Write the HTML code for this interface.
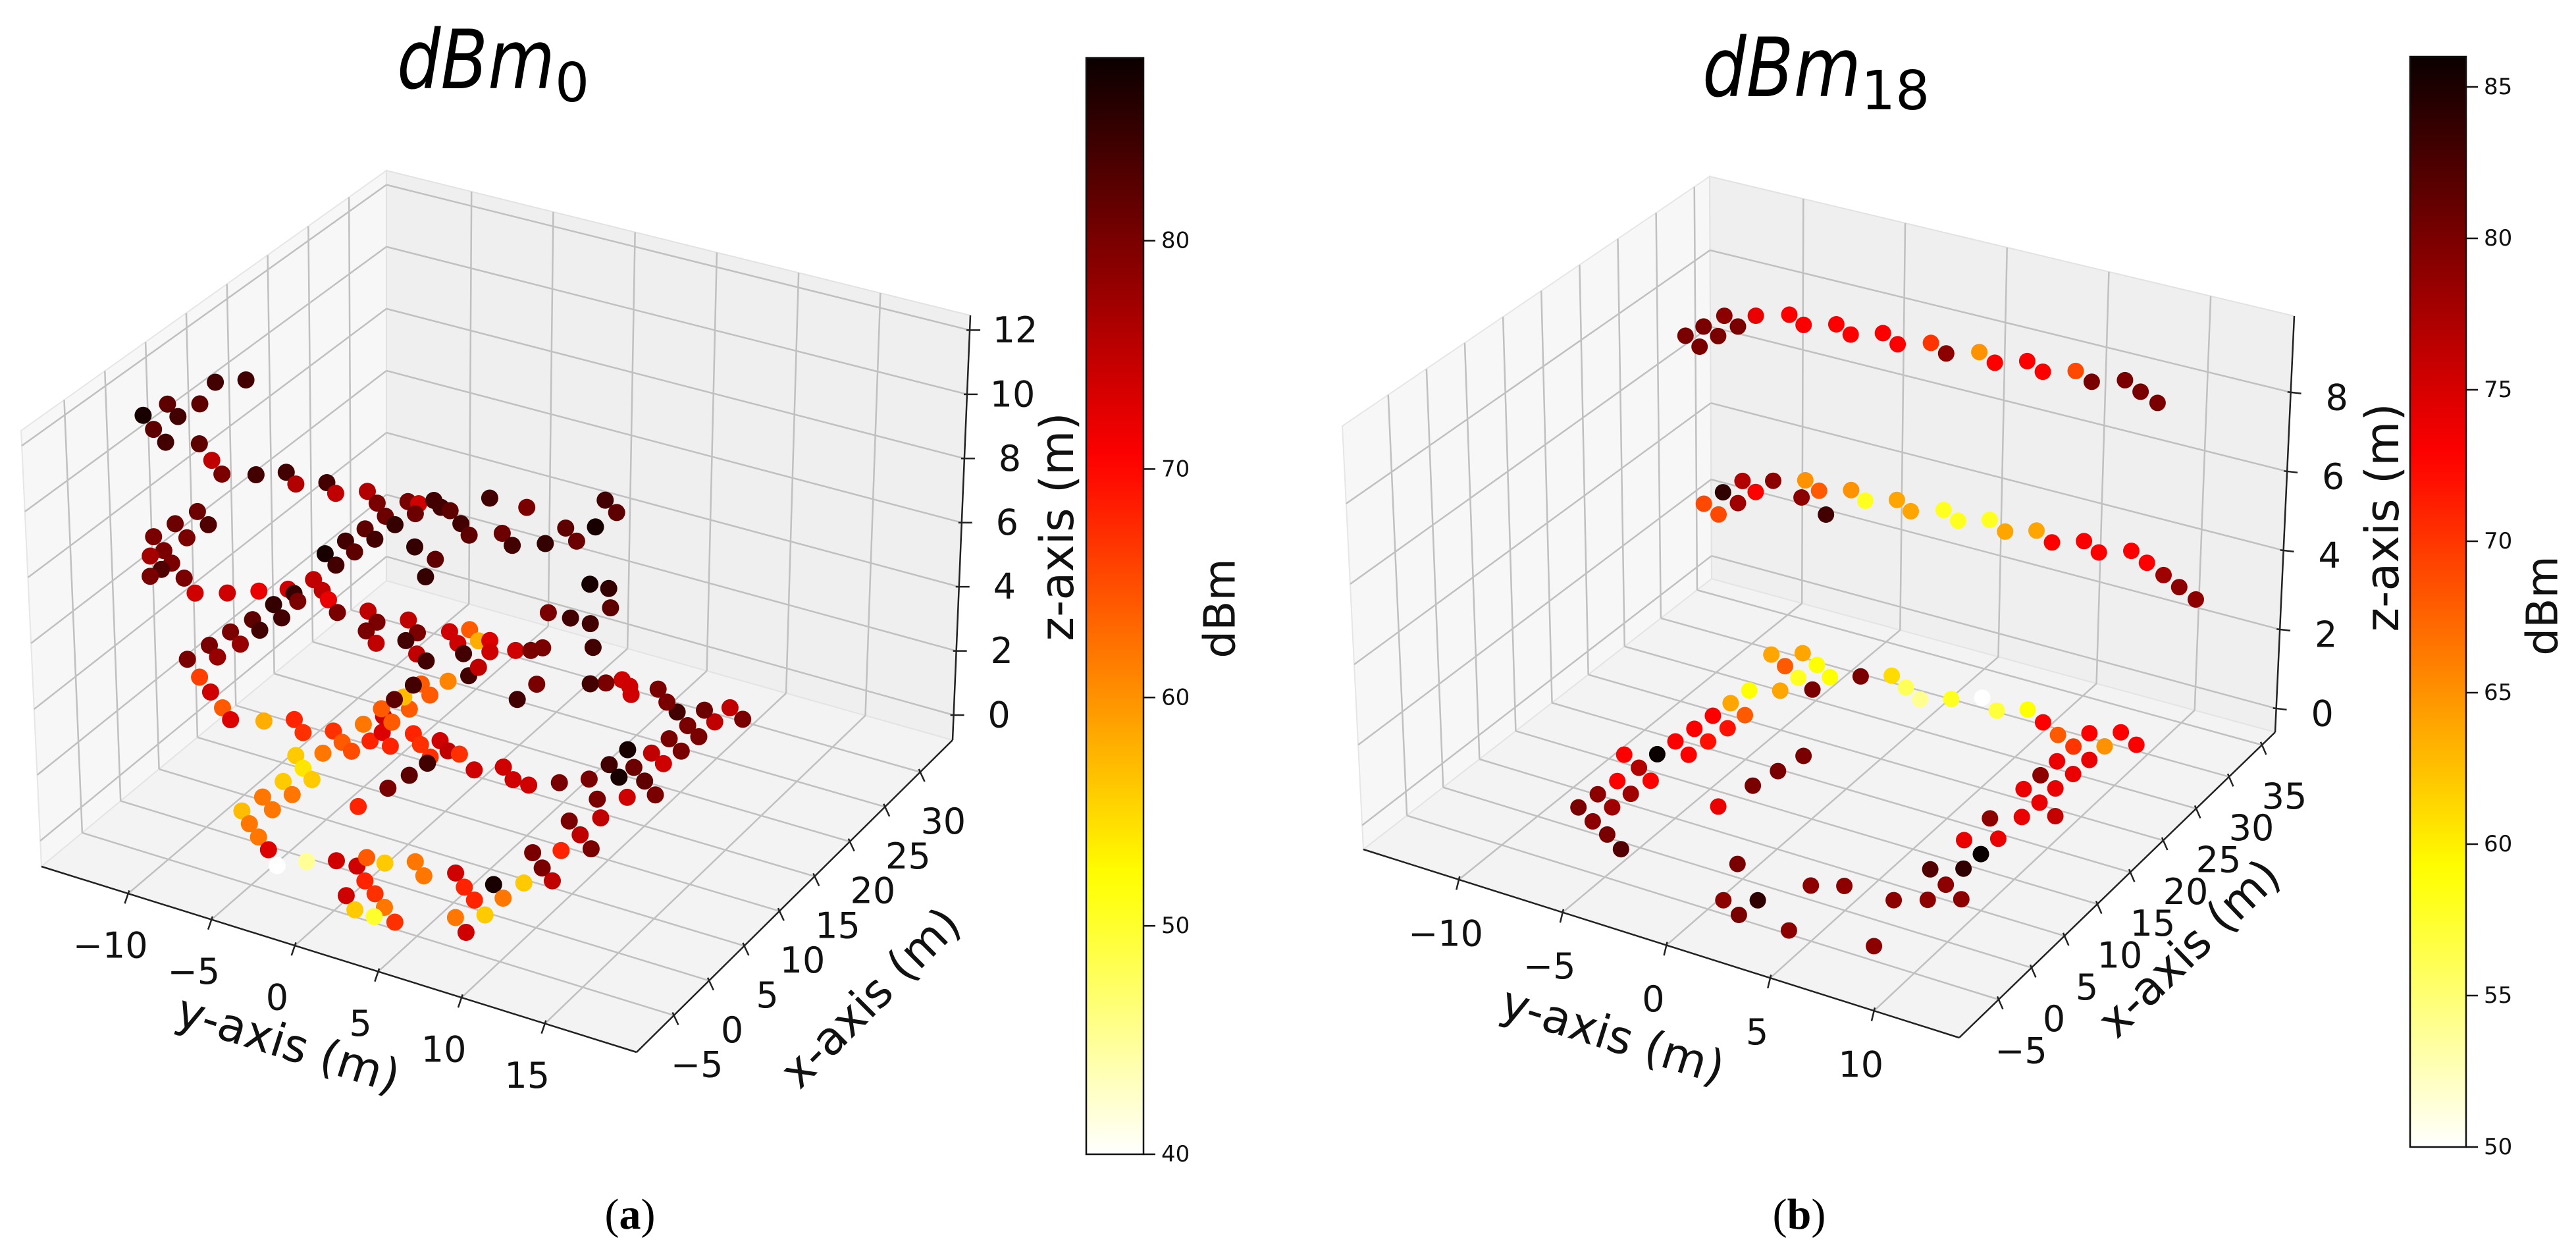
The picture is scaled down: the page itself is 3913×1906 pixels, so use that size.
<!DOCTYPE html>
<html>
<head>
<meta charset="utf-8">
<style>
html,body{margin:0;padding:0;background:#fff;}
svg{display:block;}
text{font-family:"DejaVu Sans","Liberation Sans",sans-serif;}
</style>
</head>
<body>
<svg id="chart" width="3913" height="1906" viewBox="0 0 3913 1906">
  <rect x="0" y="0" width="3913" height="1906" fill="#ffffff"></rect>
  <g id="panelA"></g>
  <g id="panelB"></g>
  <text x="603" y="134" font-size="124"><tspan font-style="italic" textLength="240" lengthAdjust="spacingAndGlyphs">dBm</tspan><tspan font-size="82" dy="20">0</tspan></text>
  <text x="2586" y="146" font-size="124"><tspan font-style="italic" textLength="241" lengthAdjust="spacingAndGlyphs">dBm</tspan><tspan font-size="82" dy="20">18</tspan></text>
  <text x="957" y="1866" font-size="66" text-anchor="middle" style="font-family:'Liberation Serif',serif">(<tspan font-weight="bold">a</tspan>)</text>
  <text x="2733" y="1866" font-size="66" text-anchor="middle" style="font-family:'Liberation Serif',serif">(<tspan font-weight="bold">b</tspan>)</text>
</svg>
<script>
// ---------------- Panel (a) data: dBm_0 ----------------
const aX = [12.1,13.4,6.6,8.9,3.6,6.6,4.2,4.6,7.9,10.2,
10.8,13.8,15.1,14.0,15.2,14.2,15.5,14.4,15.6,15.7,
14.4,16.6,16.0,15.9,13.1,12.4,14.7,13.6,18.7,18.8,
14.9,13.8,15.1,17.6,16.4,18.7,22.2,21.1,10.9,10.0,
8.8,7.8,6.6,5.6,10.4,9.6,7.2,19.4,19.5,17.3,
14.7,14.8,14.8,9.3,10.0,6.3,7.7,4.0,4.6,3.1,
4.9,3.8,2.6,6.6,7.1,10.1,11.4,12.6,12.3,14.6,
13.6,12.7,11.5,10.3,11.5,12.7,11.7,10.3,9.2,13.0,
11.8,10.5,9.3,8.8,7.8,6.8,9.0,5.6,4.5,3.3,
2.2,0.9,3.0,5.4,
13.9,13.0,12.9,13.3,11.9,10.9,12.0,13.0,13.5,14.2,8.5,9.8,15.9,
7.7,6.6,11.3,12.5,11.3,12.5,11.5,10.8,14.3,12.6,
14.0,15.9,12.7,15.5,16.7,17.6,18.8,18.2,20.9,19.9,
22.1,20.5,14.9,13.9,12.8,12.0,15.0,14.1,14.1,12.8,
14.1,13.0,12.9,14.2,15.6,10.0,7.8,4.7,8.4,7.2,
6.2,9.6,5.0,3.8,2.5,1.4,0.2,-1.0,-2.2,-3.3,
-4.8,-3.3,-2.2,-2.1,-0.8,-0.8,0.4,-0.9,-3.5,-5.8,
-4.6,-5.8,-7.1,-7.2,-7.1,0.5,-0.8,-1.9,0.5,-0.7,
1.7,-3.2,-4.5,-5.8,5.4,4.0,2.9,6.6,10.2,9.0,
7.8,13.6,11.6,14.8,16.0,17.2,18.4,17.9,16.8,20.2,
20.6,19.8,21.8,22.8,24.9,24.0,26.2,27.2,26.1,26.9,
28.1,26.6,27.5,28.0,27.1,26.5,
22.3,24.7,28.3,27.4];
const aY = [-14.6,-13.4,-14.8,-14.0,-14.8,-14.2,-14.5,-14.0,-13.6,-14.0,
-13.7,-13.1,-11.9,-10.8,-9.5,-8.5,-7.2,-6.1,-4.8,-4.2,
-3.8,-3.7,-3.0,-2.4,-5.0,-4.1,-1.2,-0.2,-1.3,0.9,
1.2,2.3,3.7,3.8,5.0,5.1,4.1,5.3,-5.2,-4.2,
-5.4,-4.4,-5.6,-4.5,-2.0,-0.4,0.1,4.5,5.6,6.7,
4.1,5.4,6.6,-14.5,-14.2,-14.4,-14.4,-14.6,-14.3,-14.4,
-14.0,-14.1,-14.2,-14.1,-13.7,-13.2,-11.9,-10.7,-10.2,-10.1,
-9.1,-8.3,-9.6,-10.5,-7.2,-5.9,-4.9,-4.9,-3.8,-3.6,
-2.5,-2.6,-1.4,-0.6,-10.6,-9.7,-9.4,-10.9,-9.8,-11.1,
-10.1,-11.3,-11.6,-12.1,
-0.3,-1.1,0.7,1.2,-0.1,0.7,1.8,2.9,3.6,4.0,2.1,2.1,6.3,
-12.5,-11.5,-11.7,-10.4,-9.3,-8.0,-7.0,-6.1,-7.0,-5.8,
-5.7,-6.5,-4.6,-5.8,-7.0,-5.7,-6.6,-6.9,-6.5,-5.5,
-5.4,-6.8,-4.2,-3.3,-2.2,-2.0,-2.6,-1.7,-1.0,0.5,
1.7,2.8,3.8,5.1,6.3,-2.2,-2.5,-2.9,-8.4,-7.4,
-6.4,-7.3,-7.6,-6.5,-7.7,-6.6,-7.9,-6.9,-5.8,-4.7,
-3.5,-2.4,-1.1,0.1,0.1,1.2,2.5,3.6,1.2,1.1,
2.3,3.4,2.2,3.4,4.6,4.9,6.0,7.1,7.2,8.3,
8.5,8.3,7.1,8.3,7.4,8.6,9.7,8.6,7.5,8.7,
9.9,7.7,8.8,9.0,10.2,9.0,7.8,6.5,7.6,6.6,
7.9,9.0,9.2,8.0,8.2,9.3,9.3,8.2,7.0,6.0,
4.9,3.9,3.4,2.7,2.1,1.4,
-1.2,-1.1,9.3,10.5];
const aZ = [10,10,10.3,10,10.5,10,10,9.6,9,8,
7.5,7,7,7,7,7,7,7,7,7,
7,7,7,7,7,7,7,7,7,7,
7,7,7,7,7,7,7,7,7,7,
7,7,7,7,7,7,7,5,5,5,
5,5,5,6.5,6,6.7,6,6.7,6.2,6.3,
5.8,5.8,5.8,5,4.5,4,4,4,4,4,
4,4,4,4,4,4,4,4,4,4,
4,4,4,4,4,4,4,4,4,4,
4,4,3,2,
4,4,4,4,4,4,4,4,4,4,4,4,4,
1,1,0,0,0,0,0,0,0,0,
0,0,0,0,0,0,0,0,0,0,
0,0,0,0,0,0,0,0,0,0,
0,0,0,0,0,0,0,0,0,0,
0,0,0,0,0,0,0,0,0,0,
0,0,0,0,0,0,0,0,0,0,
0,0,0,0,0,0,0,0,0,0,
0,0,0,0,0,0,0,0,0,0,
0,0,0,0,0,0,0,0,0,0,
0,0,0,0,0,0,0,0,0,0,
0,0,0,0,0,0,
0,0,0,0];
const aDbm = [84,84,82,82,87,84,82,84,82,75,
80,84,84,76,84,75,76,80,80,74,
81,84,84,82,81,85,84,82,84,80,
81,84,85,82,81,87,84,82,82,84,
84,82,87,84,85,82,85,87,85,82,
80,84,84,81,83,81,80,80,80,77,
80,83,80,80,74,74,72,74,85,75,
75,72,80,85,80,75,80,80,75,75,
80,84,75,84,82,84,84,80,78,80,
78,80,66,74,
64,74,58,73,74,84,74,74,80,80,84,75,84,
64,73,58,68,67,67,64,65,62,68,
73,74,68,64,64,64,57,82,64,64,
61,84,68,67,67,84,74,75,67,74,
74,74,74,80,80,82,80,68,56,54,
56,62,56,62,62,62,57,62,62,73,
40,45,74,74,64,56,62,62,68,74,
67,62,56,50,67,74,68,68,87,62,
56,56,62,74,80,80,75,68,80,75,
80,80,75,74,80,82,81,84,87,87,
75,74,80,80,80,80,75,81,84,80,
80,74,74,74,80,84,
84,80,75,80];
const aXTicks = [-5,0,5,10,15,20,25,30];
const aYTicks = [-10,-5,0,5,10,15];
const aZTicks = [0,2,4,6,8,10,12];
const aCbTicks = [40,50,60,70,80];
const aCbRange = [40,88];

// ---------------- Panel (b) data: dBm_18 ----------------
const bX = [21.1,23.0,20.1,22.2,25.2,24.2,26.3,27.6,26.7,27.9,27.0,28.3,27.3,28.6,27.7,29.0,28.1,29.4,28.5,29.7,28.8,30.1,29.1,28.2,
21.7,20.8,23.9,23.0,26.1,25.1,27.2,26.0,28.4,27.5,24.6,28.7,27.8,29.0,28.0,29.3,28.4,29.6,28.6,29.8,28.8,30.05,29.1,30.4,29.4,28.4,27.4,26.4,
26.3,27.6,26.6,25.3,20.9,22.0,24.3,23.3,25.5,26.7,
27.9,26.9,25.9,27.05,28.3,27.2,28.4,27.35,26.3,25.4,
27.6,26.5,28.8,27.8,23.0,24.3,20.7,22.0,18.4,19.6,
17.3,14.9,16.2,13.6,10.0,11.4,8.9,6.5,5.2,3.9,
1.4,2.7,0.1,-6.2,0.0,-1.2,-7.5,-5.0,-6.3,-7.5,
-1.3,5.1,9.0,11.75,14.6,18.6,17.6,16.35,15.3,14.0,
12.9,11.7,10.5,9.4,8.1,7.0,4.5,5.8,2.1,3.4,
-0.3,1.0,-1.5,-2.6,-3.9];
const bY = [-9.95,-9.76,-8.91,-8.77,-9.55,-8.53,-8.42,-7.26,-6.24,-5.08,-4.06,-2.95,-1.88,-0.72,0.34,1.5,2.57,3.7,4.77,5.96,7.05,8.23,9.33,10.46,
-9.35,-8.31,-9.2,-8.14,-9.03,-8.02,-7.91,-6.08,-6.75,-5.75,-4.38,-4.59,-3.57,-2.43,-1.39,-0.22,0.81,1.96,3.07,4.21,5.32,6.48,7.54,8.71,9.82,10.98,12.09,13.24,
-7.69,-6.58,-5.51,-6.65,-6.88,-5.72,-5.63,-4.57,-4.47,-3.35,
-2.21,-1.15,-0.09,1.08,2.2,3.31,4.45,5.58,6.69,7.77,
7.83,8.96,9.0,10.12,7.76,8.94,7.71,8.9,7.64,8.82,
8.8,8.72,9.95,7.58,7.5,8.72,8.69,8.63,7.43,8.62,
8.56,9.77,7.33,8.43,4.96,3.73,4.75,2.42,1.19,2.34,
0.2,-2.91,-2.55,-2.26,-1.98,-6.99,-5.93,-7.08,-5.98,-7.17,
-6.11,-7.3,-6.23,-7.39,-8.56,-7.45,-7.64,-6.46,-7.76,-6.6,
-7.87,-6.68,-6.76,-5.68,-4.57];
const bZ = [8.6,8.6,8.6,8.6,8.6,8.6,8.6,8.6,8.6,8.6,8.6,8.6,8.6,8.6,8.6,8.6,8.6,8.6,8.6,8.6,8.6,8.6,8.6,8.6,
4.3,4.3,4.3,4.3,4.3,4.3,4.3,4.3,4.3,4.3,4.3,4.3,4.3,4.3,4.3,4.3,4.3,4.3,4.3,4.3,4.3,4.3,4.3,4.3,4.3,4.3,4.3,4.3,
0,0,0,0,0,0,0,0,0,0,
0,0,0,0,0,0,0,0,0,0,
0,0,0,0,0,0,0,0,0,0,
0,0,0,0,0,0,0,0,0,0,
0,0,0,0,0,0,0,0,0,0,
0,0,0,0,0,0,0,0,0,0,
0,0,0,0,0,0,0,0,0,0,
0,0,0,0,0];
const bDbm = [80,80,80,80,79,80,74,73,73,73,73,73,73,70,79,65,73,73,73,69,80,80,80,80,
69,69,84,78,77,73,79,79,65,68,83,65,58,64,64,58,58,58,64,64,73,73,73,73,73,78,79,79,
64,64,59,68,59,64,58,80,59,80,
61,56,54,58,50,57,59,73,68,70,
73,65,73,73,74,74,79,74,74,74,
74,74,76,79,74,74,86,84,82,79,
79,79,79,79,79,79,79,84,79,80,
80,74,80,80,80,64,68,73,72,73,
72,73,73,86,73,77,73,73,79,78,
80,78,79,80,82];
const bXTicks = [-5,0,5,10,15,20,25,30,35];
const bYTicks = [-10,-5,0,5,10];
const bZTicks = [0,2,4,6,8];
const bCbTicks = [50,55,60,65,70,75,80,85];
const bCbRange = [50,86];

// ---------------- geometry (layout) ----------------
const GA = {x0:-10.3,x1:34.6,y0:-15.2,y1:20.5,z0:-0.78,z1:12.46,
  L:[63,1316],F:[967,1598],R:[1447,1124],B:[587,882],
  Lt:[32,654],Ft:[985,918],Rt:[1474,479],Bt:[587,259],
  yOff:[-27,79],xOff:[35,75],zOff:[69,0],r:13,
  yLab:[438,1585,17.5],xLab:[1322,1515,-45],zLab:[1606,800,-90],
  cb:{x:1650,w:87,top:88,bot:1753,lab:[1853,924]}, key:'a'};
const GB = {x0:-11,x1:37,y0:-14.6,y1:14.1,z0:-0.6,z1:9.93,
  L:[2071,1290],F:[2976,1576],R:[3456,1112],B:[2600,879],
  Lt:[2039,647],Ft:[2990,916],Rt:[3485,480],Bt:[2597,268],
  yOff:[-20,82],xOff:[34,78],zOff:[70,8],r:12.5,
  yLab:[2450,1572,17.3],xLab:[3325,1440,-44],zLab:[3619,786,-90],
  cb:{x:3661,w:85,top:86,bot:1742,lab:[3862,920]}, key:'b'};

const NS = document.getElementById('chart').namespaceURI;
function mk(tag, attrs, parent){
  const e = document.createElementNS(NS, tag);
  for (const k in attrs) e.setAttribute(k, attrs[k]);
  parent.appendChild(e);
  return e;
}
function proj(P, x, y, z){
  const u=(x-P.x0)/(P.x1-P.x0), v=(y-P.y0)/(P.y1-P.y0), w=(z-P.z0)/(P.z1-P.z0);
  const bl = (A,Bf,C,D,i) => (1-u)*(1-v)*A[i]+(1-u)*v*Bf[i]+u*v*C[i]+u*(1-v)*D[i];
  const fx=bl(P.L,P.F,P.R,P.B,0), fy=bl(P.L,P.F,P.R,P.B,1);
  const tx=bl(P.Lt,P.Ft,P.Rt,P.Bt,0), ty=bl(P.Lt,P.Ft,P.Rt,P.Bt,1);
  return [fx+w*(tx-fx), fy+w*(ty-fy)];
}
function hotR(v, vmin, vmax){
  let t = 1-(v-vmin)/(vmax-vmin); t=Math.max(0,Math.min(1,t));
  const r = t<0.365079 ? 0.0416+(1-0.0416)*t/0.365079 : 1;
  const g = t<0.365079 ? 0 : (t<0.746032 ? (t-0.365079)/(0.746032-0.365079) : 1);
  const b = t<0.746032 ? 0 : (t-0.746032)/(1-0.746032);
  return 'rgb('+Math.round(r*255)+','+Math.round(g*255)+','+Math.round(b*255)+')';
}
function fmt(n){ return n<0 ? '\u2212'+Math.abs(n) : String(n); }
function pts(arr){ return arr.map(p=>p[0].toFixed(1)+','+p[1].toFixed(1)).join(' '); }

function drawPanel(P, gid, X, Y, Z, D, xt, yt, zt, cbt, cbr){
  const g = document.getElementById(gid);
  const {x0,x1,y0,y1,z0,z1} = P;
  const left = mk('polygon',{points:pts([proj(P,x0,y0,z0),proj(P,x1,y0,z0),proj(P,x1,y0,z1),proj(P,x0,y0,z1)]),fill:'#f7f7f7',stroke:'#e6e6e6','stroke-width':2},g);
  
  
  const right = mk('polygon',{points:pts([proj(P,x1,y0,z0),proj(P,x1,y1,z0),proj(P,x1,y1,z1),proj(P,x1,y0,z1)]),fill:'#efefef',stroke:'#e2e2e2','stroke-width':2},g);
  
  
  const floor = mk('polygon',{points:pts([proj(P,x0,y0,z0),proj(P,x0,y1,z0),proj(P,x1,y1,z0),proj(P,x1,y0,z0)]),fill:'#f3f3f3',stroke:'#e4e4e4','stroke-width':2},g);
  
  
  const gs = {stroke:'#c0c0c0','stroke-width':2.5};
  const seg = (a,b,name)=>{
    const l = mk('line',Object.assign({x1:a[0],y1:a[1],x2:b[0],y2:b[1]},gs),g);
    
    
  };
  xt.forEach(x=>{ seg(proj(P,x,y0,z0),proj(P,x,y1,z0),'x-gridline-floor'); seg(proj(P,x,y0,z0),proj(P,x,y0,z1),'x-gridline-wall'); });
  yt.forEach(y=>{ seg(proj(P,x0,y,z0),proj(P,x1,y,z0),'y-gridline-floor'); seg(proj(P,x1,y,z0),proj(P,x1,y,z1),'y-gridline-wall'); });
  zt.forEach(z=>{ seg(proj(P,x0,y0,z),proj(P,x1,y0,z),'z-gridline-left'); seg(proj(P,x1,y0,z),proj(P,x1,y1,z),'z-gridline-right'); });
  const ax = (a,b,name)=>{
    const l = mk('line',{x1:a[0],y1:a[1],x2:b[0],y2:b[1],stroke:'#222','stroke-width':2.5},g);
    
    
  };
  ax(proj(P,x0,y0,z0),proj(P,x0,y1,z0),'y-axis-line');
  ax(proj(P,x0,y1,z0),proj(P,x1,y1,z0),'x-axis-line');
  ax(proj(P,x1,y1,z0),proj(P,x1,y1,z1),'z-axis-line');
  const tick = (p,off,label,name)=>{
    const n = Math.hypot(off[0],off[1]), dx=off[0]/n, dy=off[1]/n;
    const t = mk('line',{x1:p[0]-dx*5,y1:p[1]-dy*5,x2:p[0]+dx*16,y2:p[1]+dy*16,stroke:'#222','stroke-width':2.5},g);
    
    
    const tx = mk('text',{x:p[0]+off[0],y:p[1]+off[1],'font-size':54,'text-anchor':'middle','dominant-baseline':'central',fill:'#111'},g);
    tx.textContent = label;
    
    
  };
  yt.forEach(y=>tick(proj(P,x0,y,z0),P.yOff,fmt(y),'y'));
  xt.forEach(x=>tick(proj(P,x,y1,z0),P.xOff,fmt(x),'x'));
  zt.forEach(z=>{ const p=proj(P,x1,y1,z); tick(p,[P.zOff[0],P.zOff[1]],fmt(z),'z'); });
  const title = (c,txt,name)=>{
    const t = mk('text',{x:c[0],y:c[1],'font-size':70,'text-anchor':'middle','dominant-baseline':'central',transform:'rotate('+c[2]+' '+c[0]+' '+c[1]+')',fill:'#111'},g);
    t.textContent = txt;
    
    
  };
  title(P.yLab,'y-axis (m)','y-axis-title');
  title(P.xLab,'x-axis (m)','x-axis-title');
  title(P.zLab,'z-axis (m)','z-axis-title');
  for (let i=0;i<X.length;i++){
    const p = proj(P,X[i],Y[i],Z[i]);
    const c = mk('circle',{cx:p[0].toFixed(1),cy:p[1].toFixed(1),r:P.r,fill:hotR(D[i],cbr[0],cbr[1])},g);
    
    
  }
  const cb = P.cb;
  const gradId = 'grad'+P.key;
  const defs = mk('defs',{},g);
  const lg = mk('linearGradient',{id:gradId,x1:0,y1:0,x2:0,y2:1},defs);
  for (let s=0;s<=50;s++){
    const v = cbr[1]-(cbr[1]-cbr[0])*s/50;
    mk('stop',{offset:(s/50).toFixed(3),'stop-color':hotR(v,cbr[0],cbr[1])},lg);
  }
  const bar = mk('rect',{x:cb.x,y:cb.top,width:cb.w,height:cb.bot-cb.top,fill:'url(#'+gradId+')',stroke:'#111','stroke-width':2.5},g);
  
  
  cbt.forEach(v=>{
    const y = cb.bot-(v-cbr[0])/(cbr[1]-cbr[0])*(cb.bot-cb.top);
    const t = mk('line',{x1:cb.x+cb.w,y1:y,x2:cb.x+cb.w+18,y2:y,stroke:'#111','stroke-width':2.5},g);
    
    
    const tx = mk('text',{x:cb.x+cb.w+27,y:y,'font-size':34,'dominant-baseline':'central',fill:'#111'},g);
    tx.textContent = String(v);
    
    
  });
  const cl = mk('text',{x:cb.lab[0],y:cb.lab[1],'font-size':66,'text-anchor':'middle','dominant-baseline':'central',transform:'rotate(-90 '+cb.lab[0]+' '+cb.lab[1]+')',fill:'#111'},g);
  cl.textContent = 'dBm';
  
  
}
drawPanel(GA,'panelA',aX,aY,aZ,aDbm,aXTicks,aYTicks,aZTicks,aCbTicks,aCbRange);
drawPanel(GB,'panelB',bX,bY,bZ,bDbm,bXTicks,bYTicks,bZTicks,bCbTicks,bCbRange);
</script>
</body>
</html>
